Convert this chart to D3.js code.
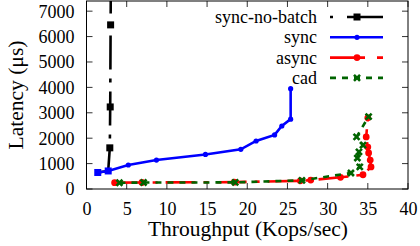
<!DOCTYPE html>
<html><head><meta charset="utf-8">
<script src="https://cdn.jsdelivr.net/npm/d3@7"></script>
<style>body{margin:0;background:#fff}svg{display:block}svg text{font-family:'Liberation Serif','Times New Roman',serif !important}</style>
</head><body>
<script>
const xTicks=[0,5,10,15,20,25,30,35,40];
const yTicks=[0,1000,2000,3000,4000,5000,6000,7000];
const seriesNames=["sync-no-batch","sync","async","cad"];
const noBatchX=[1.4,2.7,2.9,2.95,3.0,3.05];
const noBatchY=[650,710,1620,3230,6460,9500];
const syncX=[1.4,2.7,5.2,8.7,14.8,19.2,21.1,23.4,24.3,25.4,25.4];
const syncY=[650,710,945,1140,1360,1560,1890,2130,2480,2750,3950];
const asyncX=[3.5,6.9,18.4,26.6,27.9,31.6,34.4,35.4,35.3,35.1,35.0,34.8,35.0];
const asyncY=[250,255,270,320,350,460,560,870,1140,1420,1650,2050,2800];
const cadX=[4.1,7.1,18.5,26.8,32.9,34.0,33.7,33.9,34.4,33.6,35.1];
const cadY=[245,255,260,340,630,870,1220,1460,1730,2050,2850];

const W=420,H=246,L=86.5,R=408,T=1,B=189;
const svg=d3.select("body").append("svg").attr("width",W).attr("height",H);
const x=d3.scaleLinear().domain([0,40]).range([L,R]);
const y=d3.scaleLinear().domain([0,7400]).range([B,T]);
const zip=(a,b)=>a.map((v,i)=>[v,b[i]]);
const nb=zip(noBatchX,noBatchY),sy=zip(syncX,syncY),as=zip(asyncX,asyncY),cd=zip(cadX,cadY);

svg.append("defs").append("clipPath").attr("id","clip").append("rect").attr("x",L).attr("y",T).attr("width",R-L).attr("height",B-T);

const fs=18, tfs=21.5;
const gx=svg.append("g").attr("transform",`translate(0,${B})`).call(d3.axisBottom(x).tickValues(xTicks).tickFormat(d3.format("d")).tickSize(0).tickPadding(13));
const gy=svg.append("g").attr("transform",`translate(${L},0)`).call(d3.axisLeft(y).tickValues(yTicks).tickFormat(d3.format("d")).tickSize(0).tickPadding(12));
[gx,gy].forEach(g=>{g.attr("font-family",null);g.select(".domain").remove();g.selectAll("text").attr("font-size",fs).attr("fill","#000");});
gy.selectAll("text").attr("dy","0.33em");
gx.selectAll("text").attr("dy","0.7em");
const tg=svg.append("g").attr("stroke","#333").attr("stroke-width",1);
xTicks.forEach(v=>{tg.append("line").attr("x1",x(v)).attr("x2",x(v)).attr("y1",B).attr("y2",B-6);tg.append("line").attr("x1",x(v)).attr("x2",x(v)).attr("y1",T).attr("y2",T+6);});
yTicks.forEach(v=>{tg.append("line").attr("y1",y(v)).attr("y2",y(v)).attr("x1",L).attr("x2",L+6);tg.append("line").attr("y1",y(v)).attr("y2",y(v)).attr("x1",R).attr("x2",R-6);});
svg.append("rect").attr("x",L).attr("y",T).attr("width",R-L).attr("height",B-T).attr("fill","none").attr("stroke","#000").attr("stroke-width",1);

svg.append("text").attr("x",248).attr("y",236).attr("text-anchor","middle").attr("font-size",tfs).text("Throughput (Kops/sec)");
svg.append("text").attr("transform",`translate(23,${95}) rotate(-90)`).attr("text-anchor","middle").attr("font-size",tfs).text("Latency (μs)");

const line=d3.line().x(d=>x(d[0])).y(d=>y(d[1]));
const pl=svg.append("g").attr("clip-path","url(#clip)");
const styles={
 "sync-no-batch":{c:"#000",dash:"34,9,4,9"},
 "sync":{c:"#0000ff",dash:null},
 "async":{c:"#ff0000",dash:"30,8,5,8"},
 "cad":{c:"#006400",dash:"6,6"}
};
function drawLine(data,s){pl.append("path").datum(data).attr("d",line).attr("fill","none").attr("stroke",s.c).attr("stroke-width",2.6).attr("stroke-dasharray",s.dash);}
function square(g,cx,cy,c,sz){g.append("rect").attr("x",cx-sz/2).attr("y",cy-sz/2).attr("width",sz).attr("height",sz).attr("fill",c);}
function circ(g,cx,cy,c,r){g.append("circle").attr("cx",cx).attr("cy",cy).attr("r",r).attr("fill",c);}
function cross(g,cx,cy,c,s){g.append("path").attr("d",`M${cx-s},${cy-s}L${cx+s},${cy+s}M${cx-s},${cy+s}L${cx+s},${cy-s}`).attr("stroke",c).attr("stroke-width",2.6).attr("fill","none");}
const inSync=d=>sy.some(e=>e[0]===d[0]&&e[1]===d[1]);

drawLine(nb,styles["sync-no-batch"]);
nb.forEach(d=>square(pl,x(d[0]),y(d[1]),inSync(d)?"#0000ff":"#000",7));
drawLine(sy,styles["sync"]);
sy.forEach(d=>circ(pl,x(d[0]),y(d[1]),"#0000ff",2.6));
drawLine(as,styles["async"]);
as.forEach(d=>circ(pl,x(d[0]),y(d[1]),"#ff0000",3.4));
drawLine(cd,styles["cad"]);
cd.forEach(d=>cross(pl,x(d[0]),y(d[1]),"#006400",3));

const lg=svg.append("g");
seriesNames.forEach((n,i)=>{
 const yy=17+i*20.3, s=styles[n];
 lg.append("text").attr("x",317).attr("y",yy).attr("dy","0.33em").attr("text-anchor","end").attr("font-size",fs).text(n);
 lg.append("line").attr("x1",330).attr("x2",383).attr("y1",yy).attr("y2",yy).attr("stroke",s.c).attr("stroke-width",2.6).attr("stroke-dasharray",n==="sync-no-batch"?"3,14,40":n==="async"?"35,12,6":s.dash);
 const mx=357;
 if(n==="sync-no-batch")square(lg,mx,yy,"#000",7);
 else if(n==="sync")circ(lg,mx,yy,"#0000ff",2.6);
 else if(n==="async")circ(lg,mx,yy,"#ff0000",3.4);
 else cross(lg,mx,yy,"#006400",3);
});
</script>
</body></html>
